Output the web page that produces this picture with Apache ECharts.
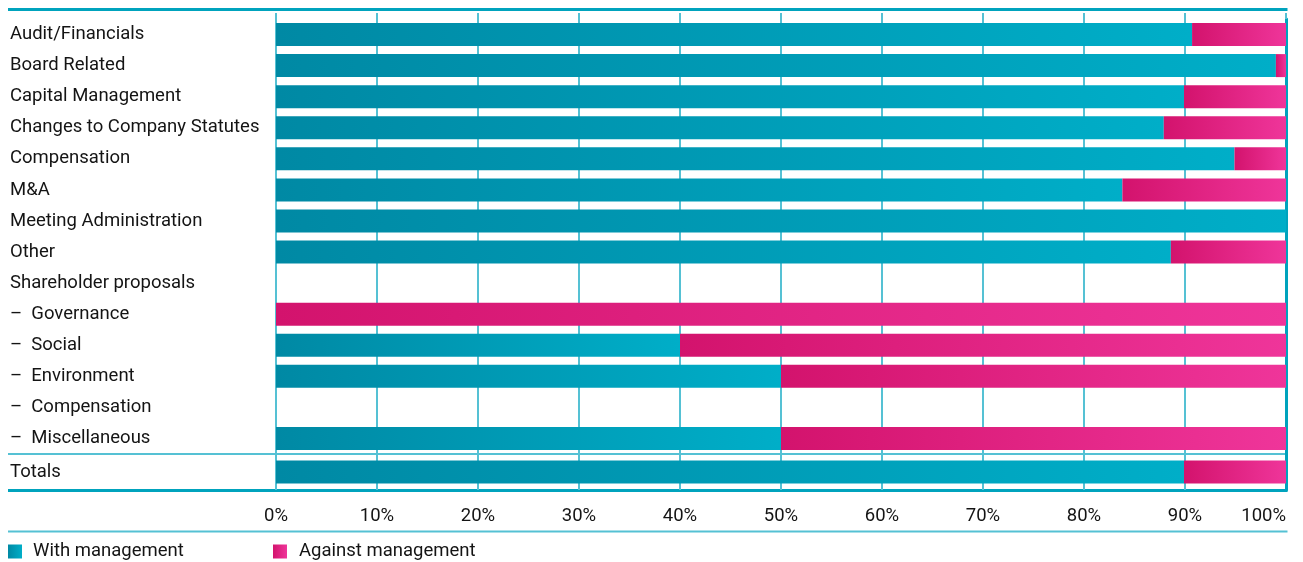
<!DOCTYPE html>
<html>
<head>
<meta charset="utf-8">
<script src="https://cdn.jsdelivr.net/npm/echarts@6/dist/echarts.min.js"></script>
<style>
html,body{margin:0;padding:0;background:#fff;}
#chart{width:1303px;height:562px;}
</style>
</head>
<body>
<div id="chart"></div>
<script>
// ---- Data ----
const categories = [
  'Audit/Financials',
  'Board Related',
  'Capital Management',
  'Changes to Company Statutes',
  'Compensation',
  'M&A',
  'Meeting Administration',
  'Other',
  'Shareholder proposals',
  '–  Governance',
  '–  Social',
  '–  Environment',
  '–  Compensation',
  '–  Miscellaneous'
];
const withManagement    = [90.7, 99.0, 89.9, 87.9, 94.9, 83.8, 100, 88.6, '-', 0, 40, 50, '-', 50];
const againstManagement = [9.3, 1.0, 10.1, 12.1, 5.1, 16.2, 0, 11.4, '-', 100, 60, 50, '-', 50];
const totalCategory = ['Totals'];
const totalWith = [89.9];
const totalAgainst = [10.1];
const xTicks = [0, 10, 20, 30, 40, 50, 60, 70, 80, 90, 100];
const seriesNames = ['With management', 'Against management'];

// ---- Style ----
const FONT = 'Roboto';
const FS = 18.5;
const TEXT = '#141414';
const GRID_LEFT = 276, GRID_RIGHT_X = 1286;
const DARK_LINE = '#00a3bd';
const LIGHT_LINE = '#55c1d4';

const withColor = new echarts.graphic.LinearGradient(0, 0, 1, 0, [
  {offset: 0, color: '#0089a4'}, {offset: 1, color: '#00aec8'}
]);
const againstColor = new echarts.graphic.LinearGradient(0, 0, 1, 0, [
  {offset: 0, color: '#d3136d'}, {offset: 1, color: '#ef359a'}
]);

const chart = echarts.init(document.getElementById('chart'), null, {renderer: 'canvas'});

const gridCommon = {left: GRID_LEFT, right: 1303 - GRID_RIGHT_X, containLabel: false, outerBoundsMode: 'none'};

const option = {
  backgroundColor: '#fff',
  animation: false,
  grid: [
    Object.assign({top: 19, height: 435}, gridCommon),
    Object.assign({top: 454, height: 36}, gridCommon)
  ],
  xAxis: [
    {
      gridIndex: 0, type: 'value', position: 'top', min: xTicks[0], max: xTicks[xTicks.length - 1], interval: 10,
      axisLine: {show: false},
      axisTick: {show: true, length: 6, inside: false, lineStyle: {color: LIGHT_LINE, width: 2}},
      axisLabel: {show: false},
      splitLine: {show: true, lineStyle: {color: LIGHT_LINE, width: 2}}
    },
    {
      gridIndex: 1, type: 'value', position: 'bottom', min: xTicks[0], max: xTicks[xTicks.length - 1], interval: 10,
      axisLine: {show: false},
      axisTick: {show: false},
      axisLabel: {
        show: true, margin: 17, formatter: '{value}%',
        fontFamily: FONT, fontSize: FS, color: TEXT,
        alignMaxLabel: 'right'
      },
      splitLine: {show: true, lineStyle: {color: LIGHT_LINE, width: 2}}
    }
  ],
  yAxis: [
    {
      gridIndex: 0, type: 'category', inverse: true, data: categories,
      axisLine: {show: false}, axisTick: {show: false},
      axisLabel: {align: 'left', margin: GRID_LEFT - 10, fontFamily: FONT, fontSize: FS, color: TEXT, interval: 0}
    },
    {
      gridIndex: 1, type: 'category', inverse: true, data: totalCategory,
      axisLine: {show: false}, axisTick: {show: false},
      axisLabel: {align: 'left', margin: GRID_LEFT - 10, fontFamily: FONT, fontSize: FS, color: TEXT}
    },
    {
      gridIndex: 0, type: 'category', position: 'right', inverse: true, data: categories,
      axisLine: {show: true, lineStyle: {color: DARK_LINE, width: 3}}, axisTick: {show: false}, axisLabel: {show: false}
    },
    {
      gridIndex: 1, type: 'category', position: 'right', inverse: true, data: totalCategory,
      axisLine: {show: true, lineStyle: {color: DARK_LINE, width: 3}}, axisTick: {show: false}, axisLabel: {show: false}
    }
  ],
  legend: [
    {
      left: 8, top: 542, padding: 0, selectedMode: false, icon: 'rect', itemWidth: 14, itemHeight: 14,
      data: [seriesNames[0]],
      textStyle: {fontFamily: FONT, fontSize: FS, color: TEXT, padding: [0, 0, 0, 6]}
    },
    {
      left: 273, top: 542, padding: 0, selectedMode: false, icon: 'rect', itemWidth: 14, itemHeight: 14,
      data: [seriesNames[1]],
      textStyle: {fontFamily: FONT, fontSize: FS, color: TEXT, padding: [0, 0, 0, 7]}
    }
  ],
  series: [
    {name: seriesNames[0], type: 'bar', stack: 'main', xAxisIndex: 0, yAxisIndex: 0, barWidth: 23,
     itemStyle: {color: withColor}, data: withManagement},
    {name: seriesNames[1], type: 'bar', stack: 'main', xAxisIndex: 0, yAxisIndex: 0, barWidth: 23,
     itemStyle: {color: againstColor}, data: againstManagement},
    {name: seriesNames[0], type: 'bar', stack: 'total', xAxisIndex: 1, yAxisIndex: 1, barWidth: 23,
     itemStyle: {color: withColor}, data: totalWith},
    {name: seriesNames[1], type: 'bar', stack: 'total', xAxisIndex: 1, yAxisIndex: 1, barWidth: 23,
     itemStyle: {color: againstColor}, data: totalAgainst}
  ],
  graphic: [
    {type: 'line', silent: true, shape: {x1: 8, y1: 9.5, x2: GRID_RIGHT_X + 1.5, y2: 9.5}, style: {stroke: DARK_LINE, lineWidth: 3}},
    {type: 'line', silent: true, shape: {x1: 8, y1: 454, x2: GRID_RIGHT_X, y2: 454}, style: {stroke: LIGHT_LINE, lineWidth: 2}},
    {type: 'line', silent: true, shape: {x1: 8, y1: 490.5, x2: GRID_RIGHT_X + 1.5, y2: 490.5}, style: {stroke: DARK_LINE, lineWidth: 3}},
    {type: 'line', silent: true, shape: {x1: 8, y1: 531.5, x2: GRID_RIGHT_X + 1.5, y2: 531.5}, style: {stroke: LIGHT_LINE, lineWidth: 2}}
  ]
};
chart.setOption(option);
</script>
</body>
</html>
